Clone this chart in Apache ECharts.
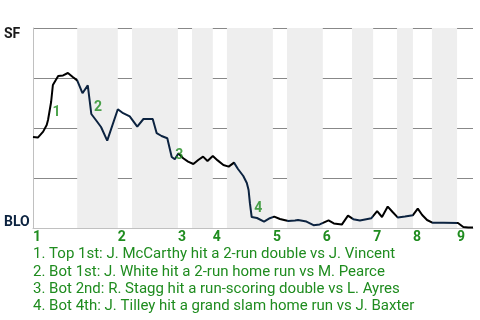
<!DOCTYPE html>
<html><head><meta charset="utf-8">
<script src="https://cdn.jsdelivr.net/npm/echarts@6/dist/echarts.min.js"></script>
<style>html,body{margin:0;padding:0;background:#fff}#c{width:480px;height:320px}</style>
</head><body><div id="c"></div>
<script>
// game progress (0 = first pitch, 99.6 = final out)
const progress = [0,1.1,2.3,3.1,3.4,4.1,4.5,5.7,6.8,7.9,9.0,10.0,11.2,12.4,13.2,14.4,15.4,16.8,19.2,20.4,21.9,23.6,25.0,27.1,28.0,29.1,30.4,31.4,32.1,32.9,34.0,35.1,36.3,37.4,38.5,39.5,40.7,41.8,43.1,44.3,45.5,46.4,47.6,48.4,48.8,49.1,49.5,50.7,52.3,53.6,54.6,55.9,57.8,59.3,60.0,61.9,63.5,64.9,66.9,68.1,69.9,71.3,72.5,74.0,76.6,77.9,79.0,80.3,81.4,82.6,84.2,86.0,87.1,88.1,89.2,90.5,93.0,96.2,97.4,98.5,99.6];
// SF win probability (%)
const sfWinProb = [45.5,45.2,48.2,51.5,54,63,71.5,76,76.3,77.5,75.5,73.8,67.4,71.3,57,53.5,50.5,43.7,59.4,57.4,55.8,50.7,54.5,54.5,47.4,46,44.9,35.5,34.4,37.3,34.9,33.2,32,34,35.7,33.5,36,33.8,31.5,30.7,32.7,29.5,26,22.5,19,12.4,5.5,5,3.2,4.9,5.7,4.5,3.5,3.7,4,3.2,1.4,1.8,3.8,2.3,1.7,6.2,4.4,3.8,4.9,8.4,5.5,10.7,8,5.2,5.7,6.4,9.7,6.5,4,2.6,2.6,2.5,0.5,0.2,0.2];
// half-inning start positions (top 1, bot 1, top 2, ...), and game end
const halfInningStarts = [0,10,19.2,22.4,32.8,36,40.7,43.9,54.3,57.5,65.6,72.2,77,82.4,86,90.3,96];
const gameEnd = 99.6;
const inningLabels = ['1','2','3','4','5','6','7','8','9'];
// key events: progress, win prob, number
const eventX = [3.6,13.0,31.4,49.3];
const eventY = [58,60.5,36.5,10];
const eventNums = ['1','2','3','4'];
const eventTexts = [
  '1. Top 1st: J. McCarthy hit a 2-run double vs J. Vincent',
  '2. Bot 1st: J. White hit a 2-run home run vs M. Pearce',
  '3. Bot 2nd: R. Stagg hit a run-scoring double vs L. Ayres',
  '4. Bot 4th: J. Tilley hit a grand slam home run vs J. Baxter'
];
const teamTop = 'SF', teamBottom = 'BLO';
// stretches drawn in black (rest navy)
const blackRanges = [[0,10],[32.8,45.4],[54.3,57.5],[65.6,72.2],[77,82.4],[86,90.3],[96,100]];

const GREEN = '#1f8c1f', NAVY = '#0c2340';
const topStarts = halfInningStarts.filter((v,i)=>i%2===0);
const bands = [];
for (let i = 1; i < halfInningStarts.length; i += 2) {
  const end = i + 1 < halfInningStarts.length ? halfInningStarts[i+1] : gameEnd;
  bands.push([{xAxis: halfInningStarts[i]}, {xAxis: end}]);
}
const pieces = [];
let prev = -1;
blackRanges.forEach(r => {
  if (r[0] > prev) pieces.push({gte: prev, lt: r[0], color: NAVY});
  pieces.push({gte: r[0], lt: r[1], color: '#000'});
  prev = r[1];
});
pieces.push({gte: prev, lte: 1000, color: NAVY});

const chart = echarts.init(document.getElementById('c'));
chart.setOption({
  animation: false,
  title: {
    text: eventTexts.join('\n'), left: 33, top: 246, padding: 0,
    textStyle: {fontFamily: 'Roboto', fontSize: 15, fontWeight: 'normal', color: GREEN, lineHeight: 17.3}
  },
  grid: {left: 33, right: 7, top: 28, bottom: 92},
  visualMap: {show: false, type: 'piecewise', seriesIndex: 1, dimension: 0, pieces: pieces},
  xAxis: {
    type: 'value', min: 0, max: gameEnd, z: 1,
    axisLine: {show: true, lineStyle: {color: '#c0c0c0'}},
    axisTick: {show: false}, splitLine: {show: false},
    axisLabel: {
      customValues: topStarts, align: 'left', margin: 2,
      fontFamily: 'Roboto', fontSize: 14, fontWeight: 'bold', color: GREEN,
      formatter: v => { const i = topStarts.findIndex(t => Math.abs(t - v) < 0.01); return i >= 0 ? inningLabels[i] : ''; }
    }
  },
  yAxis: {
    type: 'value', min: 0, max: 100, interval: 25, z: 1,
    axisLine: {show: true, lineStyle: {color: '#c0c0c0'}},
    axisTick: {show: false},
    splitLine: {show: true, lineStyle: {color: ['#c0c0c0','#888','#888','#888','#888']}},
    axisLabel: {
      customValues: [3, 97], align: 'left', margin: 29,
      fontFamily: 'Roboto', fontSize: 14, fontWeight: 'bold',
      color: v => v > 50 ? '#1a1a1a' : NAVY,
      formatter: v => v > 50 ? teamTop : teamBottom
    }
  },
  series: [
    {type: 'line', z: 0, data: [], markArea: {silent: true, itemStyle: {color: '#eeeeee', opacity: 1}, data: bands}},
    {type: 'line', z: 3, showSymbol: false, symbol: 'none', lineStyle: {width: 2},
     data: progress.map((x, i) => [x, sfWinProb[i]])},
    {type: 'scatter', z: 4, symbolSize: 1, itemStyle: {color: 'rgba(0,0,0,0)'},
     data: eventX.map((x, i) => [x, eventY[i], eventNums[i]]),
     label: {show: true, position: 'right', distance: 3, formatter: p => p.value[2],
       fontFamily: 'Roboto', fontSize: 14, fontWeight: 'bold', color: GREEN}}
  ]
});
</script></body></html>
